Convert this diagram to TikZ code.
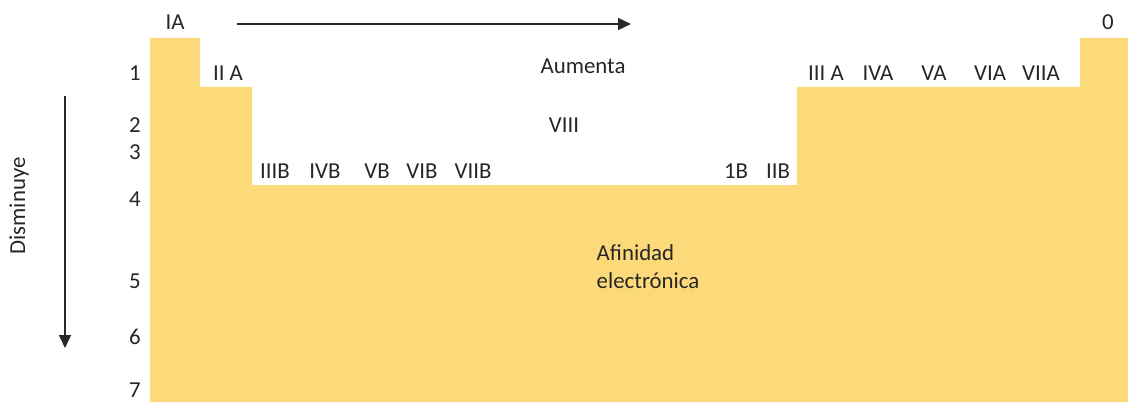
\documentclass[tikz,border=0pt]{standalone}
\usepackage{fontspec}
\setmainfont{Carlito}
\usepackage{xcolor}
\usetikzlibrary{arrows.meta,positioning}
\definecolor{tabla}{RGB}{252,218,122}
\definecolor{flecha}{RGB}{40,40,40}

\begin{document}
\begin{tikzpicture}[x=0.02cm,y=-0.02cm,
    lbl/.style={font=\fontsize{13}{16}\selectfont,text=black!85,inner sep=0pt},
    eje/.style={flecha,line width=0.8pt,-{Triangle[length=0.26cm,width=0.24cm]}}]
        \useasboundingbox (0,0) rectangle (1128,402);
        % forma de la tabla
        \fill[tabla] (150,402) -- (150,38) -- (200,38) -- (200,87) -- (252,87) -- (252,185)
          -- (797,185) -- (797,87) -- (1080,87) -- (1080,38) -- (1128,38) -- (1128,402) -- cycle;
        % periodos
        \foreach \n/\y in {1/73, 2/125, 3/152, 4/199, 5/281, 6/337, 7/390}
          \node[lbl] (p\n) at (135,\y) {\n};
        % grupos
        \node[lbl] (ia) at (175,22) {IA};
        \node[lbl] (iia) at (228,73) {II A};
        \foreach \g/\x in {IIIB/275, IVB/325, VB/377, VIB/422, VIIB/473, 1B/736, IIB/778}
          \node[lbl] (g\g) at (\x,171) {\g};
        \node[lbl] (viii) at (564,125) {VIII};
        \foreach \g/\t/\x in {iiia/III A/826, iva/IVA/878, va/VA/934, via/VIA/990, viia/VIIA/1041}
          \node[lbl] (\g) at (\x,73) {\t};
        \node[lbl] (cero) at (1108,22) {0};
        \node[lbl,align=left] (afin) at (648,267) {Afinidad\\electrónica};
        % tendencias
        \coordinate (h0) at (237,24);
        \coordinate (h1) at (631,24);
        \draw[eje] (h0) -- (h1);
        \node[lbl] (aum) at (583,66) {Aumenta};
        \coordinate (v0) at (65,96);
        \coordinate (v1) at (65,348);
        \draw[eje] (v0) -- (v1);
        \node[lbl,rotate=90] (dism) at (19,206) {Disminuye};
      \end{tikzpicture}
\end{document}
